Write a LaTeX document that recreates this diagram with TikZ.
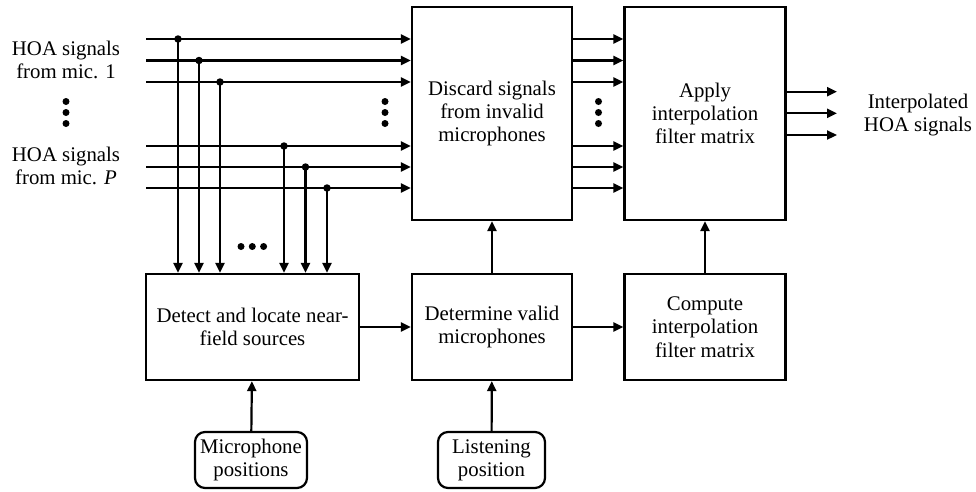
\documentclass[tikz,border=0pt]{standalone}
\usepackage{fontspec}
\setmainfont{Liberation Serif}
\usetikzlibrary{arrows.meta}
\begin{document}
\begin{tikzpicture}[x=1pt,y=-1pt,
  font=\fontsize{20.8}{23.3}\selectfont,
  lw/.style={line width=2.2pt},
  blk/.style={draw,lw,rectangle,align=center,inner sep=0pt},
  rblk/.style={draw,lw,rectangle,rounded corners=10pt,align=center,inner sep=0pt},
  txt/.style={align=center,inner sep=0pt},
  arr/.style={lw,-{Triangle[length=10pt,width=9pt]}},
  jdot/.style={circle,fill=black,inner sep=0pt,minimum size=7.5pt},
  sdot/.style={circle,fill=black,inner sep=0pt,minimum size=7pt}]
\useasboundingbox (0,0) rectangle (976,491);

% main blocks
\node[blk,minimum width=160pt,minimum height=213pt] (discard) at (492,113.5) {Discard signals\\from invalid\\microphones};
\node[blk,minimum width=161pt,minimum height=213pt] (apply) at (705,113.5) {Apply\\interpolation\\filter matrix};
\node[blk,minimum width=213pt,minimum height=106pt] (detect) at (252.5,327) {Detect and locate near-\\field sources};
\node[blk,minimum width=160pt,minimum height=106pt] (determine) at (492,327) {Determine valid\\microphones};
\node[blk,minimum width=161pt,minimum height=106pt] (compute) at (705,327) {Compute\\interpolation\\filter matrix};
\node[rblk,minimum width=112pt,minimum height=56pt] (micpos) at (251,460) {Microphone\\positions};
\node[rblk,minimum width=107pt,minimum height=56pt] (listen) at (491.5,460) {Listening\\position};

% labels
\node[txt] (in1) at (66,60) {HOA signals\\from mic. 1};
\node[txt] (inP) at (66,166) {HOA signals\\from mic. \textit{P}};
\node[txt] (out) at (918,115) {Interpolated\\HOA signals};

% input lines
\foreach \i/\y/\x in {1/39/178, 2/60.5/199, 3/82/220, 4/146/284, 5/167/305.5, 6/188/327}{
  \coordinate (s\i) at (146,\y);
  \coordinate (j\i) at (\x,\y);
  \draw[arr] (s\i) -- (s\i -| discard.west);
  \draw[arr] (j\i) -- (j\i |- detect.north);
  \node[jdot] (d\i) at (j\i) {};
  \draw[arr] (discard.east |- s\i) -- (apply.west |- s\i);
}

% vertical ellipses
\foreach \x/\n in {66/a, 385/b, 598.5/c}{
  \node[sdot] (\n1) at (\x,101.5) {};
  \node[sdot] (\n2) at (\x,112.5) {};
  \node[sdot] (\n3) at (\x,123.5) {};
}
% horizontal ellipsis
\node[sdot] (h1) at (241,246.5) {};
\node[sdot] (h2) at (252.3,246.5) {};
\node[sdot] (h3) at (263.6,246.5) {};

% outputs
\foreach \i/\y in {1/91.7, 2/113.3, 3/135}{
  \coordinate (o\i) at (837,\y);
  \draw[arr] (apply.east |- o\i) -- (o\i);
}

% other connectors
\draw[arr] (detect) -- (determine);
\draw[arr] (determine) -- (compute);
\draw[arr] (determine) -- (discard);
\draw[arr] (compute) -- (apply);
\draw[arr] (micpos) -- (detect);
\draw[arr] (listen) -- (determine);
\end{tikzpicture}
\end{document}
